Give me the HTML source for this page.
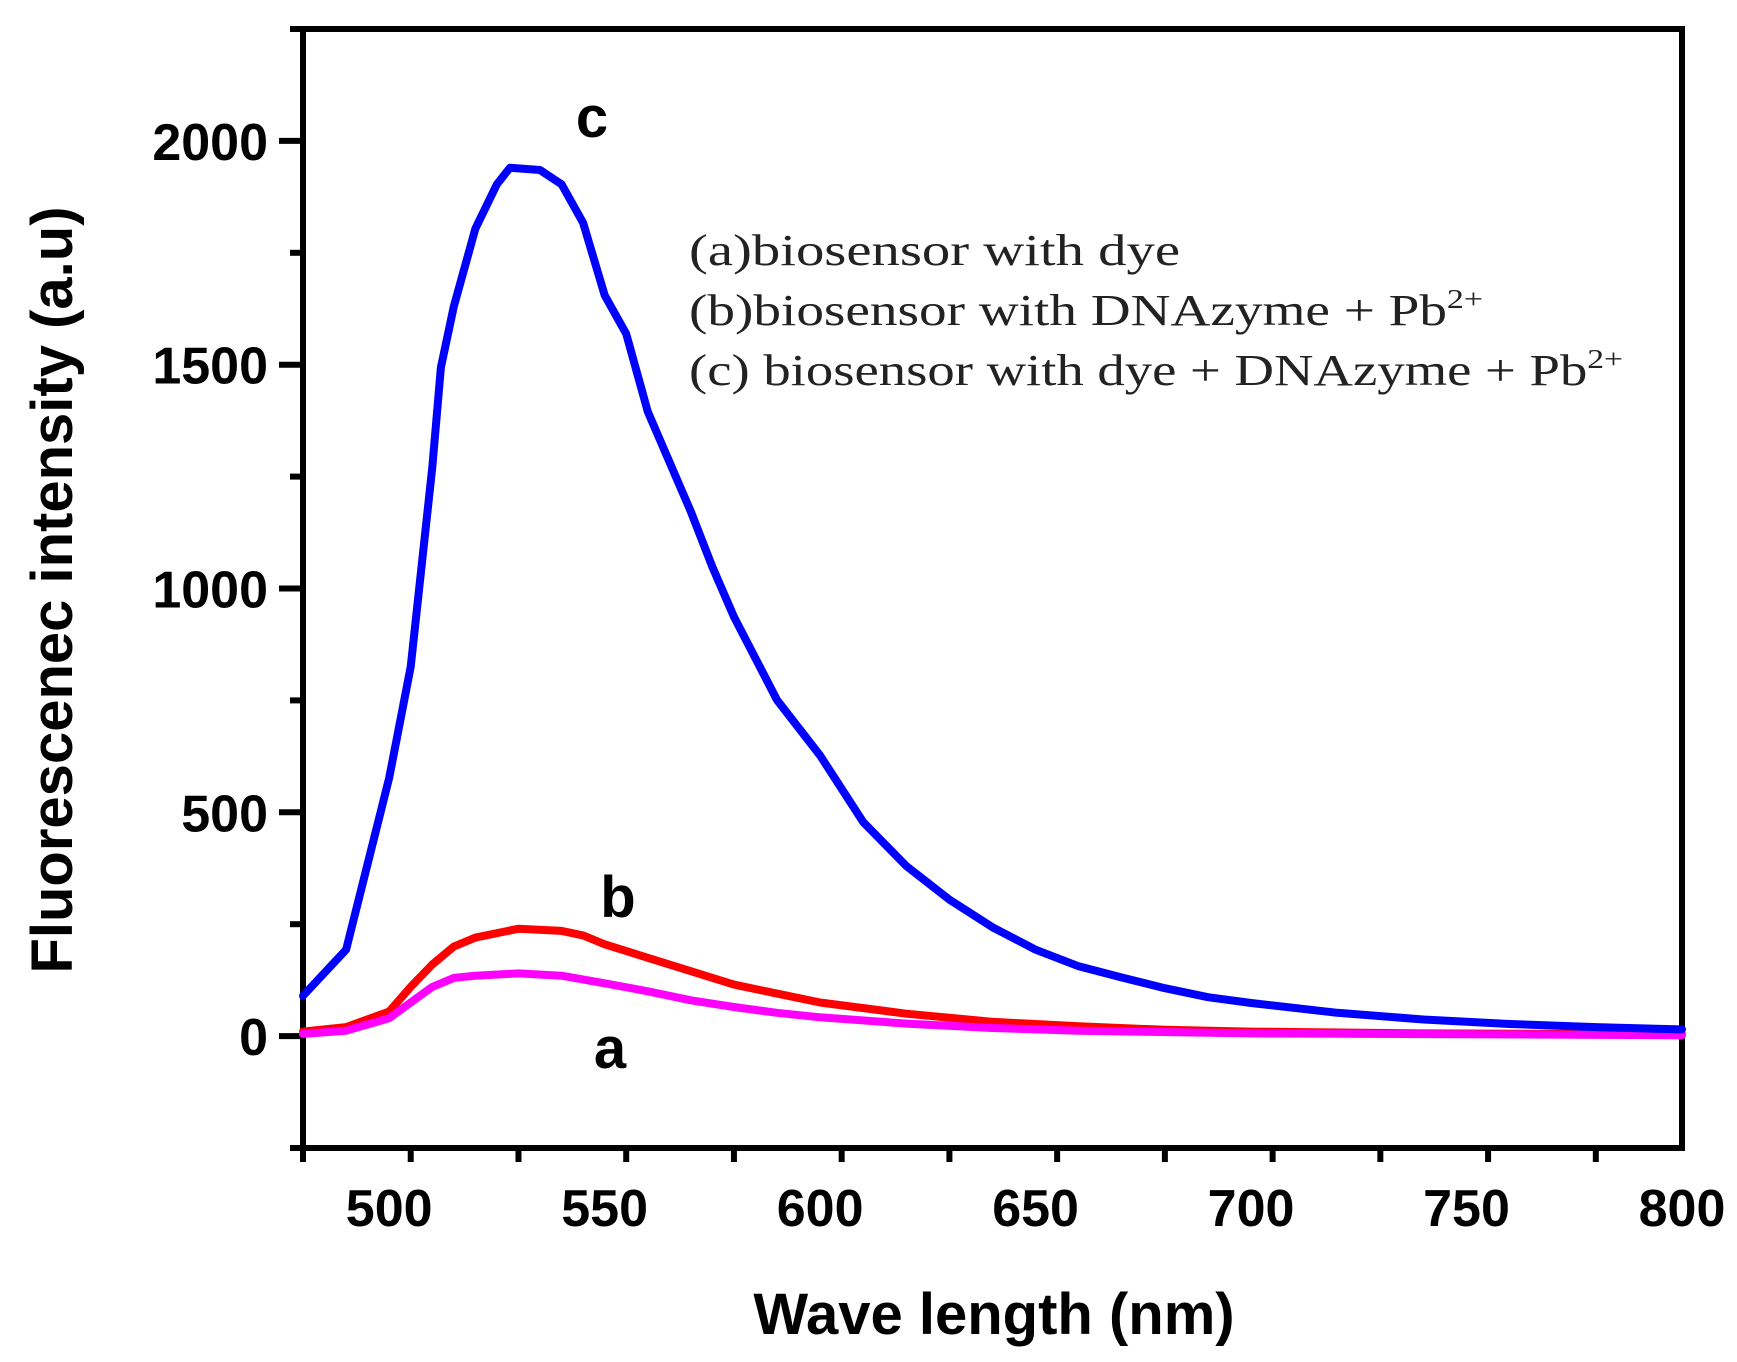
<!DOCTYPE html>
<html><head><meta charset="utf-8"><style>
html,body{margin:0;padding:0;background:#fff;}
svg{display:block;}
</style></head><body>
<svg id="chart" width="1737" height="1362" xmlns="http://www.w3.org/2000/svg">
<g id="axes"></g>
<g id="series"></g>
<text transform="translate(72,590) rotate(-90)" text-anchor="middle" font-family="Liberation Sans, sans-serif" font-weight="bold" font-size="58">Fluorescenec intensity (a.u)</text>
<text x="994" y="1334" text-anchor="middle" font-family="Liberation Sans, sans-serif" font-weight="bold" font-size="58">Wave length (nm)</text>
<text x="592" y="137" text-anchor="middle" font-family="Liberation Sans, sans-serif" font-weight="bold" font-size="58">c</text>
<text x="618" y="917" text-anchor="middle" font-family="Liberation Sans, sans-serif" font-weight="bold" font-size="58">b</text>
<text x="610" y="1068" text-anchor="middle" font-family="Liberation Sans, sans-serif" font-weight="bold" font-size="58">a</text>
<g font-family="Liberation Serif, serif" font-size="44" fill="#222">
<text x="689" y="265" textLength="491" lengthAdjust="spacingAndGlyphs">(a)biosensor with dye</text>
<text x="689" y="325" textLength="794" lengthAdjust="spacingAndGlyphs">(b)biosensor with DNAzyme + Pb<tspan font-size="27" dy="-17">2+</tspan></text>
<text x="689" y="385" textLength="934" lengthAdjust="spacingAndGlyphs">(c) biosensor with dye + DNAzyme + Pb<tspan font-size="27" dy="-17">2+</tspan></text>
</g>
</svg>
<script>
const xTicks = [500, 550, 600, 650, 700, 750, 800];
const yTicks = [0, 500, 1000, 1500, 2000];
const wlA = [480,490,500,505,510,515,520,530,540,550,560,570,580,590,600,620,640,660,700,800];
const valA = [5,12,40,75,110,130,135,140,135,118,100,80,65,52,42,28,18,12,6,2];
const wlB = [480,490,500,505,510,515,520,530,540,545,550,560,570,580,590,600,620,640,660,680,700,740,800];
const valB = [10,20,55,110,160,200,220,240,235,225,205,175,145,115,95,75,50,32,22,14,10,6,4];
const wlC = [480,490,500,505,510,512,515,520,525,528,535,540,545,550,555,560,570,575,580,590,600,610,620,630,640,650,660,670,680,690,700,720,740,760,780,800];
const valC = [90,193,577,825,1271,1494,1630,1804,1903,1940,1935,1903,1817,1655,1569,1395,1172,1048,937,751,627,478,380,305,243,193,156,131,107,87,74,52,37,27,20,15];

const X0=303, X1=1682, Y0=1148, Y1=29;
const xMin=480, xMax=800, yMin=-250, yMax=2250;
function xs(v){return X0+(v-xMin)/(xMax-xMin)*(X1-X0);}
function ys(v){return Y0-(v-yMin)/(yMax-yMin)*(Y0-Y1);}
const NS='http://www.w3.org/2000/svg';
const axes=document.getElementById('axes');
function mk(tag,attrs,parent){const e=document.createElementNS(NS,tag);for(const k in attrs)e.setAttribute(k,attrs[k]);parent.appendChild(e);return e;}

const frame=mk('rect',{x:X0,y:Y1,width:X1-X0,height:Y0-Y1,fill:'none',stroke:'#000','stroke-width':6},axes);



for(let v=xMin;v<=xMax;v+=25){
  const major=xTicks.indexOf(v)>=0;
  const t=mk('line',{x1:xs(v),x2:xs(v),y1:Y0,y2:Y0+(major?25:14),stroke:'#000','stroke-width':6},axes);
  
  
}
xTicks.forEach(v=>{
  const t=mk('text',{x:xs(v),y:1226,'text-anchor':'middle','font-family':'Liberation Sans, sans-serif','font-weight':'bold','font-size':52},axes);
  t.textContent=v;
  
  
});
for(let v=yMin;v<=yMax;v+=250){
  const major=yTicks.indexOf(v)>=0;
  const t=mk('line',{x1:X0,x2:X0-(major?24:13),y1:ys(v),y2:ys(v),stroke:'#000','stroke-width':6},axes);
  
  
}
yTicks.forEach(v=>{
  const t=mk('text',{x:268,y:ys(v)+19,'text-anchor':'end','font-family':'Liberation Sans, sans-serif','font-weight':'bold','font-size':52},axes);
  t.textContent=v;
  
  
});

const series=document.getElementById('series');
function line(wl,val,color,name){
  const d=wl.map((w,i)=>(i?'L':'M')+xs(w).toFixed(1)+','+ys(val[i]).toFixed(1)).join(' ');
  const p=mk('path',{d:d,fill:'none',stroke:color,'stroke-width':8,'stroke-linejoin':'round','stroke-linecap':'round'},series);
  
  
}
line(wlB,valB,'#ff0000','series-b-line');
line(wlA,valA,'#ff00ff','series-a-line');
line(wlC,valC,'#0000ff','series-c-line');
</script>
</body></html>
